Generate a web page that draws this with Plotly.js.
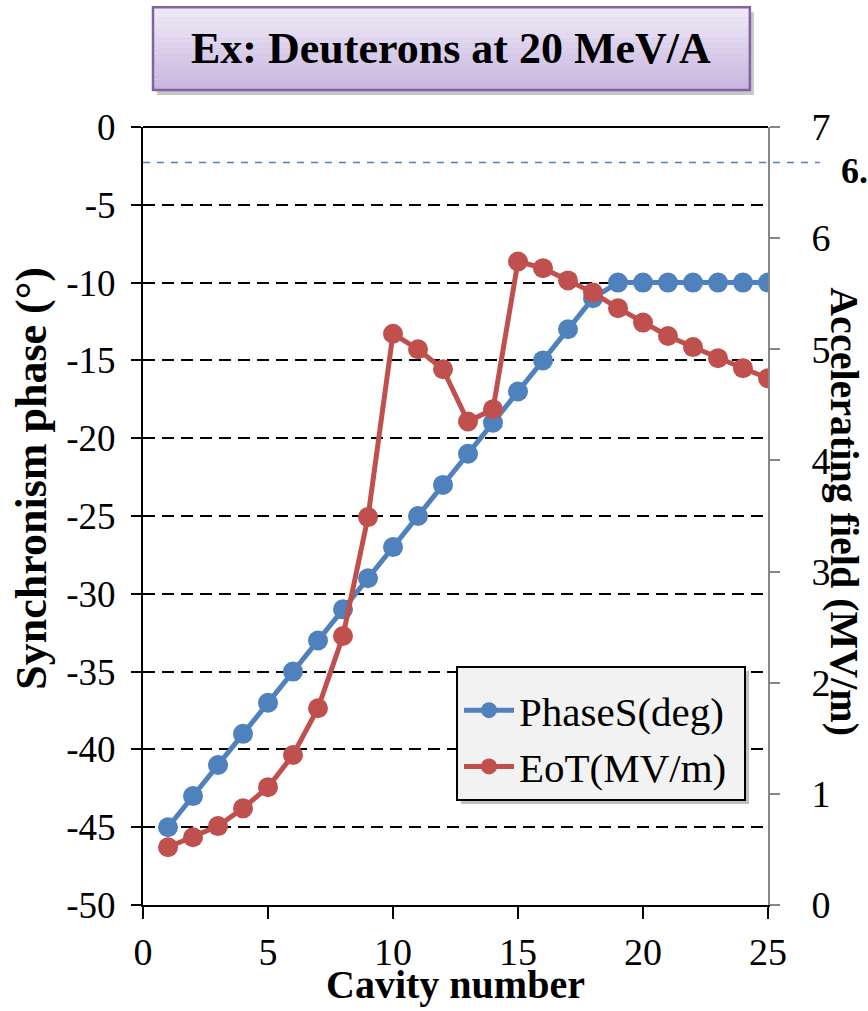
<!DOCTYPE html>
<html>
<head>
<meta charset="utf-8">
<script src="https://cdn.plot.ly/plotly-3.0.1.min.js"></script>
<style>
html,body{margin:0;padding:0;background:#fff;}
#chart{width:868px;height:1011px;}
</style>
</head>
<body>
<div id="chart"></div>
<script>
// ---- Data ----
const cavity = [1,2,3,4,5,6,7,8,9,10,11,12,13,14,15,16,17,18,19,20,21,22,23,24,25];
const phaseS = [-45,-43,-41,-39,-37,-35,-33,-31,-29,-27,-25,-23,-21,-19,-17,-15,-13,-11,-10,-10,-10,-10,-10,-10,-10];
const eoT = [0.52,0.61,0.71,0.87,1.06,1.35,1.77,2.42,3.49,5.14,5.0,4.82,4.35,4.46,5.79,5.73,5.62,5.51,5.37,5.24,5.12,5.02,4.92,4.83,4.74];
const seriesNames = ["PhaseS(deg)", "EoT(MV/m)"];
const chartTitle = "Ex: Deuterons at 20 MeV/A";
const xTitle = "Cavity number";
const yTitle = "Synchronism phase (°)";
const y2Title = "Accelerating field (MV/m)";
const refLevel = 6.68;          // dashed reference line on right axis
const refLabel = "6.68";
const xTicks = [0,5,10,15,20,25];
const yTicks = [0,-5,-10,-15,-20,-25,-30,-35,-40,-45,-50];
const y2Ticks = [0,1,2,3,4,5,6,7];

const FONT = "Liberation Serif, Times New Roman, serif";
const BLUE = "#4f81bd", RED = "#c0504d";
const y2Range = [0,7];

const traces = [
  {x: cavity, y: phaseS, name: seriesNames[0], type: "scatter", mode: "lines+markers",
   line: {color: BLUE, width: 5}, marker: {color: BLUE, size: 20}, yaxis: "y"},
  {x: cavity, y: eoT, name: seriesNames[1], type: "scatter", mode: "lines+markers",
   line: {color: RED, width: 5}, marker: {color: RED, size: 20}, yaxis: "y2"}
];

const shapes = [];
const pxX = 1/625, pxY = 1/778;
// title box with gradient strips
const bx0 = 0.016, bx1 = 0.971, by0 = 1.0476, by1 = 1.154;
shapes.push({type:"rect", xref:"paper", yref:"paper", x0:bx0+4*pxX, x1:bx1+4*pxX, y0:by0-5*pxY, y1:by1-5*pxY,
  fillcolor:"rgba(0,0,0,0.22)", line:{width:0}, layer:"above"});
const N = 16;
const c0 = [240,234,248], c1 = [200,182,224];
for (let i = 0; i < N; i++) {
  const t = i/(N-1);
  const c = c0.map((v,k)=>Math.round(v+(c1[k]-v)*t));
  shapes.push({type:"rect", xref:"paper", yref:"paper", x0:bx0, x1:bx1,
    y0: by1 - (by1-by0)*(i+1)/N, y1: by1 - (by1-by0)*i/N,
    fillcolor:`rgb(${c[0]},${c[1]},${c[2]})`, line:{width:0}, layer:"above"});
}
shapes.push({type:"rect", xref:"paper", yref:"paper", x0:bx0, x1:bx1, y0:by0, y1:by1,
  fillcolor:"rgba(0,0,0,0)", line:{color:"#8064a2", width:2.5}, layer:"above"});
// top border line of plot (solid)
shapes.push({type:"line", xref:"paper", yref:"paper", x0:0, x1:1, y0:1, y1:1,
  line:{color:"#000", width:2}, layer:"below"});
// reference dashed line
const refY = (refLevel - y2Range[0])/(y2Range[1]-y2Range[0]);
shapes.push({type:"line", xref:"paper", yref:"paper", x0:0, x1:1.083, y0:refY, y1:refY,
  line:{color:BLUE, width:1.5, dash:"7px,7px"}, layer:"above"});
// legend box (shadow + box), legend itself drawn transparent on top
const lgX0 = 0.5024, lgX1 = 0.9632, lgY0 = 0.135, lgY1 = 0.3059;
shapes.push({type:"rect", xref:"paper", yref:"paper", x0:lgX0+4*pxX, x1:lgX1+4*pxX, y0:lgY0-4*pxY, y1:lgY1-4*pxY,
  fillcolor:"rgba(0,0,0,0.25)", line:{width:0}, layer:"above"});
shapes.push({type:"rect", xref:"paper", yref:"paper", x0:lgX0, x1:lgX1, y0:lgY0, y1:lgY1,
  fillcolor:"#f2f2f2", line:{color:"#000", width:2}, layer:"above"});

const annotations = [
  {text:"<b>"+chartTitle+"</b>", xref:"paper", yref:"paper", x:(bx0+bx1)/2, y:(by0+by1)/2,
   showarrow:false, font:{family:FONT, size:44, color:"#000"}, xanchor:"center", yanchor:"middle"},
  {text:"<b>"+xTitle+"</b>", xref:"paper", yref:"paper", x:0.5, y:-0.1337, showarrow:false,
   font:{family:FONT, size:40, color:"#000"}, xanchor:"center", yanchor:"bottom"},
  {text:"<b>"+yTitle+"</b>", xref:"paper", yref:"paper", x:-0.178, y:0.549, showarrow:false,
   textangle:-90, font:{family:FONT, size:44, color:"#000"}, xanchor:"center", yanchor:"middle"},
  {text:"<b>"+y2Title+"</b>", xref:"paper", yref:"paper", x:1.123, y:0.505, showarrow:false,
   textangle:90, font:{family:FONT, size:40, color:"#000"}, xanchor:"center", yanchor:"middle"},
  {text:"<b>"+refLabel+"</b>", xref:"paper", yref:"paper", x:1.114, y:refY-8*pxY, showarrow:false,
   font:{family:FONT, size:36, color:"#000"}, xanchor:"left", yanchor:"middle"}
];

const layout = {
  width: 868, height: 1011,
  margin: {l:143, r:100, t:127, b:106},
  paper_bgcolor: "#fff", plot_bgcolor: "#fff",
  font: {family: FONT, color: "#000"},
  showlegend: true,
  legend: {x: lgX0 + 2*pxX, y: lgY1 - 10*pxY, xanchor:"left", yanchor:"top", bgcolor:"rgba(0,0,0,0)",
    borderwidth:0, font:{family:FONT, size:41, color:"#000"},
    traceorder:"normal", itemwidth: 50},
  xaxis: {range:[0,25], tickvals: xTicks, ticktext: xTicks.map(String), showgrid:false, zeroline:false,
    showline:true, linecolor:"#000", linewidth:2, ticks:"outside", ticklen:12, tickwidth:2, tickcolor:"#000",
    tickfont:{family:FONT, size:38, color:"#000"}, fixedrange:true},
  yaxis: {range:[-50,0], tickvals: yTicks, ticktext: yTicks.map(String), showgrid:true, gridcolor:"#000",
    gridwidth:2, griddash:"12px,7px", zeroline:false, showline:true, linecolor:"#000", linewidth:2,
    ticks:"outside", ticklen:10, tickwidth:2, tickcolor:"#000", ticklabelstandoff: 8,
    tickfont:{family:FONT, size:37, color:"#000"}},
  yaxis2: {range: y2Range, overlaying:"y", side:"right", tickvals: y2Ticks, ticktext: y2Ticks.map(String),
    showgrid:false, zeroline:false, showline:true, linecolor:"#868686", linewidth:2,
    ticks:"outside", ticklen:10, tickwidth:2, tickcolor:"#868686", ticklabelstandoff: 24,
    tickfont:{family:FONT, size:38, color:"#000"}},
  shapes: shapes,
  annotations: annotations
};

Plotly.newPlot("chart", traces, layout, {displayModeBar:false, staticPlot:true});
</script>
</body>
</html>
